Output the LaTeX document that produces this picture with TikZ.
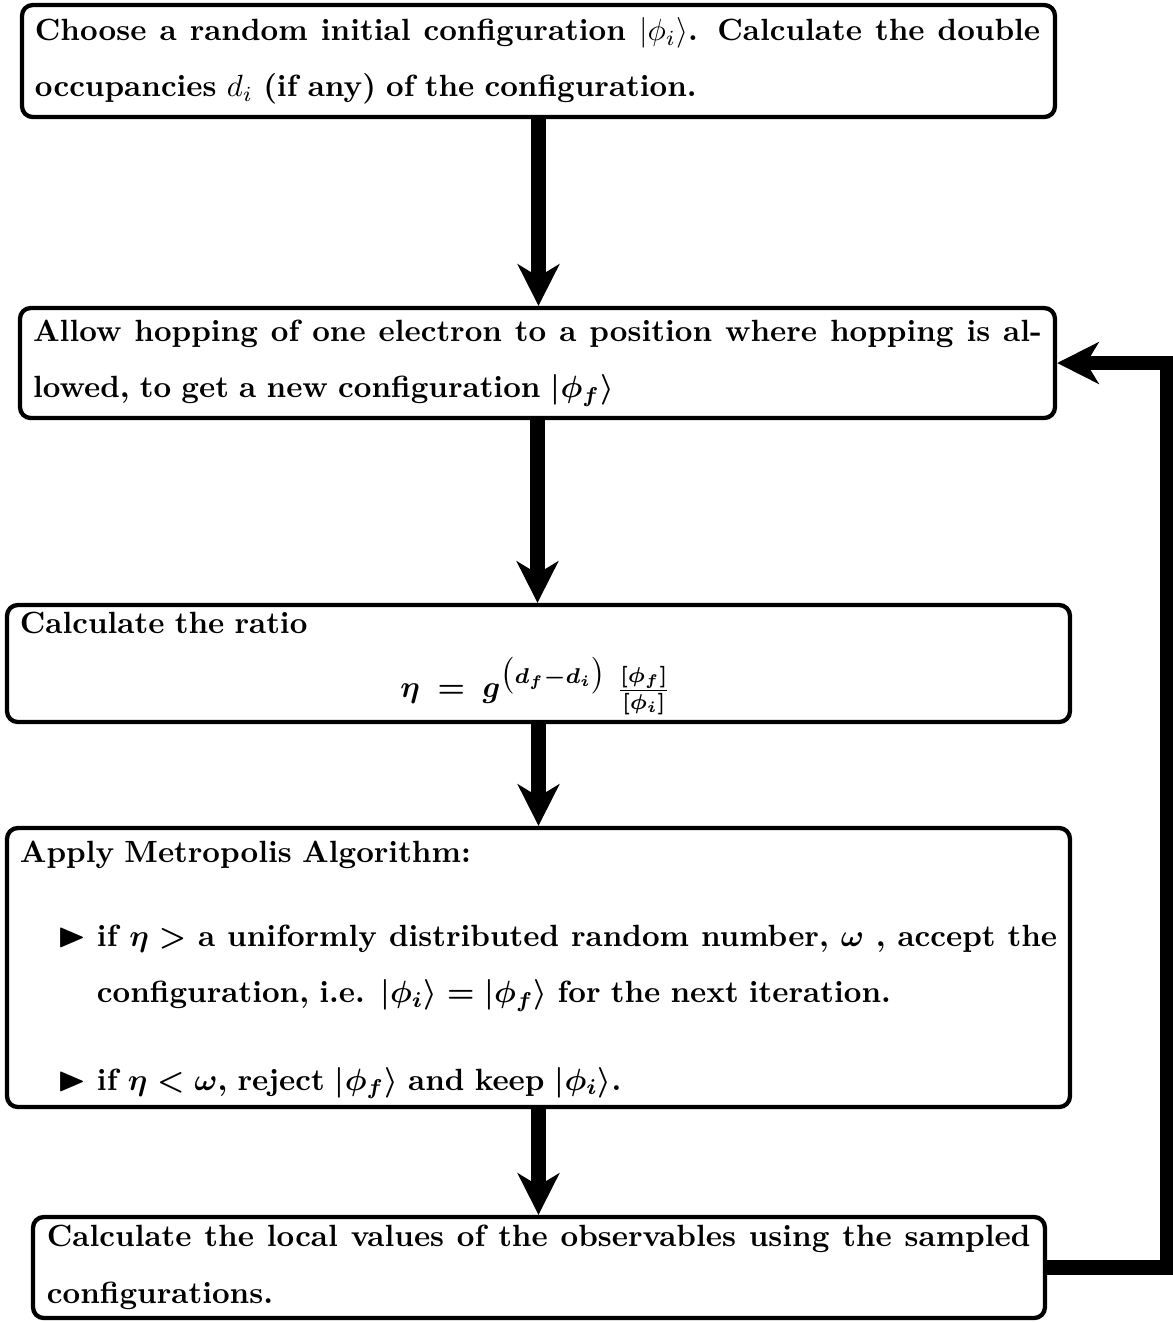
\documentclass[tikz,border=0pt]{standalone}
\usepackage{amsmath,amssymb}
\usetikzlibrary{arrows.meta}
\tikzset{
  box/.style={draw, line width=1.4pt, rounded corners=3.5pt, inner xsep=0pt, inner ysep=0pt,
    align=left, font=\fontsize{10}{18.4}\selectfont\bfseries},
  bbox/.style={box, font=\fontsize{10}{18.4}\selectfont\bfseries\mathversion{bold}},
  flow/.style={line width=4.6pt, -{Stealth[length=13.5pt,width=13.5pt,inset=4pt]}},
}
\newcommand\jl[2]{\makebox[#1][s]{\spaceskip=0pt\xspaceskip=0pt #2}}
\newcommand\itemmark{\hspace*{12.4pt}\makebox[12.7pt][l]{\scalebox{1.22}[1.12]{$\blacktriangleright$}}}
\begin{document}
\begin{tikzpicture}[x=0.3257pt,y=-0.3257pt]
\useasboundingbox (0,0) rectangle (1173,1322);
\node[box, minimum width=336.45pt, minimum height=36.48pt, text width=328.0pt] (b1) at (538.5,61)
  {\jl{327.4pt}{Choose a random initial configuration $|\phi_i\rangle$. Calculate the double}\\
   occupancies $d_i$ (if any) of the configuration.};
\node[bbox, minimum width=337.1pt, minimum height=35.83pt, text width=328.6pt] (b2) at (537.5,363)
  {\jl{328.6pt}{Allow hopping of one electron to a position where hopping is al-}\\
   lowed, to get a new configuration $|\phi_f\rangle$};
\node[bbox, minimum width=346.2pt, minimum height=38.1pt, text width=337.8pt] (b3) at (538.5,663.5)
  {Calculate the ratio\\[2.5pt]
   \makebox[336pt]{$\eta \:=\: g^{\bigl(d_f-d_i\bigr)}\;\frac{[\phi_f]}{[\phi_i]}$}};
\node[bbox, minimum width=346.2pt, minimum height=90.87pt, text width=337.8pt] (b4) at (538.5,967.5)
  {\rule{0pt}{8.5pt}Apply Metropolis Algorithm:\\[9pt]
   \itemmark\jl{312.7pt}{if \mbox{$\eta >$} a uniformly distributed random number, $\omega$ , accept the}\\
   \hspace*{25.1pt}configuration, i.e. $|\phi_i\rangle = |\phi_f\rangle$ for the next iteration.\\[10pt]
   \itemmark if $\eta < \omega$, reject $|\phi_f\rangle$ and keep $|\phi_i\rangle$.};
\node[box, minimum width=329.6pt, minimum height=32.9pt, text width=320.5pt] (b5) at (539,1267.5)
  {\jl{320.3pt}{Calculate the local values of the observables using the sampled}\\
   configurations.};
\draw[flow] (b1.south) -- (b1.south |- b2.north);
\draw[flow] (b2.south) -- (b2.south |- b3.north);
\draw[flow] (b3.south) -- (b3.south |- b4.north);
\draw[flow] (b4.south) -- (b4.south |- b5.north);
\draw[flow] (b5.east) -- ++(120,0) |- (b2.east);
\end{tikzpicture}
\end{document}
